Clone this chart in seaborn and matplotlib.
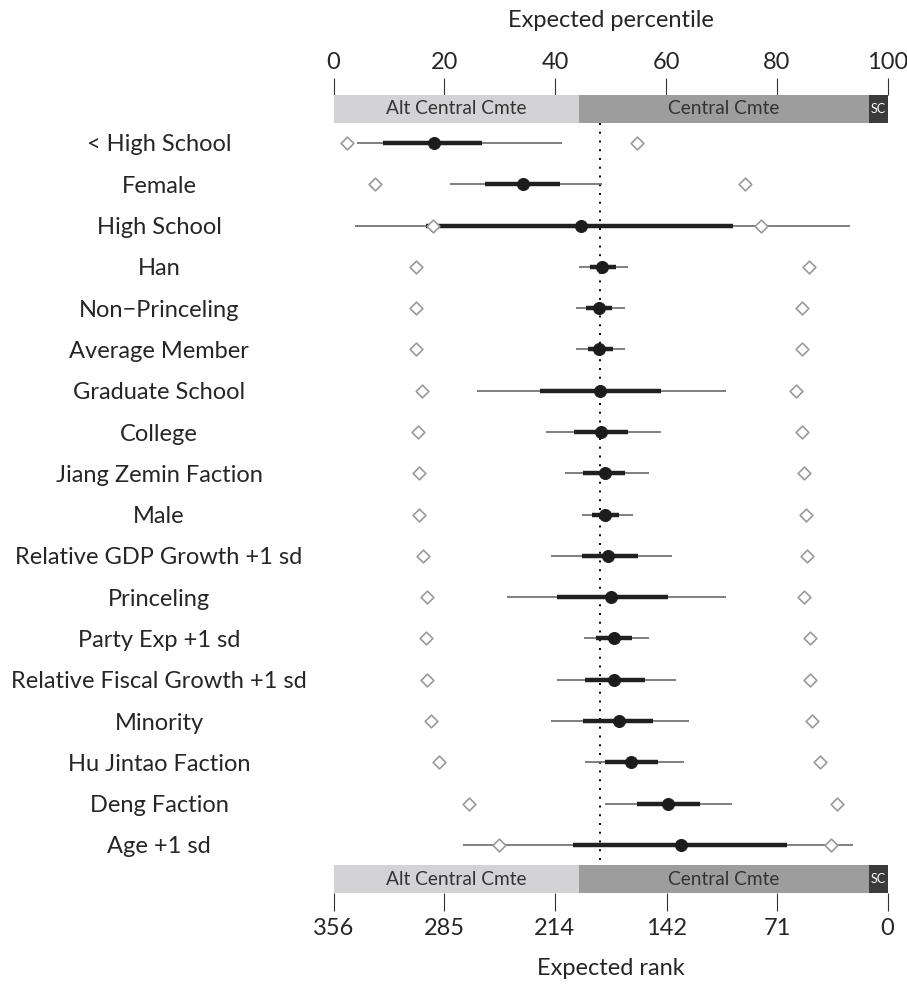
import numpy as np
import pandas as pd
import seaborn as sns
from matplotlib import pyplot as plt
from matplotlib.patches import Rectangle

sns.set_style("white")
plt.rcParams['font.family'] = ['Lato', 'DejaVu Sans']

labels = ["< High School", "Female", "High School", "Han", "Non\u2212Princeling",
          "Average Member", "Graduate School", "College", "Jiang Zemin Faction",
          "Male", "Relative GDP Growth +1 sd", "Princeling", "Party Exp +1 sd",
          "Relative Fiscal Growth +1 sd", "Minority", "Hu Jintao Faction",
          "Deng Faction", "Age +1 sd"]

# expected percentile, point estimate and intervals
est = [18.2, 34.2, 44.7, 48.4, 47.9, 47.9, 48.1, 48.3, 48.9, 49.0,
       49.6, 50.0, 50.6, 50.7, 51.5, 53.7, 60.4, 62.7]
thin_lo = [4.3, 21.1, 3.9, 44.3, 43.8, 43.8, 25.9, 38.4, 41.8, 44.9,
           39.3, 31.3, 45.2, 40.4, 39.3, 45.4, 49.0, 23.3]
thin_hi = [41.3, 48.5, 93.2, 53.1, 52.6, 52.6, 70.8, 59.1, 57.0, 54.0,
           61.0, 70.8, 57.0, 61.8, 64.1, 63.2, 72.0, 93.8]
thick_lo = [8.9, 27.3, 16.7, 46.2, 45.6, 45.9, 37.2, 43.4, 45.1, 46.7,
            44.8, 40.3, 47.4, 45.4, 45.0, 49.0, 54.7, 43.3]
thick_hi = [26.8, 40.8, 72.1, 51.0, 50.2, 50.4, 59.1, 53.2, 52.6, 51.5,
            55.0, 60.3, 53.8, 56.2, 57.6, 58.6, 66.1, 81.9]
# open diamonds
dia_lo = [2.4, 7.5, 17.9, 14.8, 14.8, 14.8, 16.0, 15.2, 15.5, 15.5,
          16.2, 16.9, 16.6, 16.9, 17.5, 19.1, 24.4, 29.8]
dia_hi = [54.8, 74.3, 77.2, 85.8, 84.5, 84.5, 83.5, 84.5, 84.9, 85.2,
          85.4, 84.9, 86.0, 86.0, 86.4, 87.8, 90.9, 89.7]

# committee bands (percentile)
band_names = ["Alt Central Cmte", "Central Cmte", "SC"]
band_edges = [0, 44.3, 96.7, 100]
band_colors = ["#d3d3d5", "#9d9d9d", "#3b3b3b"]
band_text = ["#333333", "#333333", "white"]

n_members = 356
pct_ticks = [0, 20, 40, 60, 80, 100]
rank_ticks = [356, 285, 214, 142, 71, 0]
ref_line = 48.0

ypos = np.arange(len(labels))
df = pd.DataFrame({"label": labels, "y": ypos, "est": est})
dia = pd.DataFrame({"y": np.concatenate([ypos, ypos]),
                    "x": np.concatenate([dia_lo, dia_hi])})

fig = plt.figure(figsize=(9.07, 9.84), dpi=100)
ax = fig.add_axes([333.6 / 907, 1 - 893 / 984, 554 / 907, (893 - 95) / 984])

ax.hlines(ypos, thin_lo, thin_hi, color="#6a6a6a", lw=1.2, zorder=2)
ax.hlines(ypos, thick_lo, thick_hi, color="#202020", lw=3.2, zorder=3)
sns.scatterplot(data=dia, x="x", y="y", marker="D", s=42, facecolor="white",
                edgecolor="#9a9a9a", linewidth=1.2, ax=ax, zorder=4)
sns.scatterplot(data=df, x="est", y="y", s=75, color="#1c1c1c",
                edgecolor="#1c1c1c", ax=ax, zorder=5)

top_y = -1.162
bot_y = 17.486
h = 0.678
ax.vlines(ref_line, top_y + h, bot_y, color="black", lw=1.4,
          linestyles=(0, (1, 3.5)), zorder=1)
for y0 in (top_y, bot_y):
    for i, name in enumerate(band_names):
        x0, x1 = band_edges[i], band_edges[i + 1]
        ax.add_patch(Rectangle((x0, y0), x1 - x0, h, color=band_colors[i],
                               lw=0, zorder=1))
        ax.text((x0 + x1) / 2, y0 + h / 2, name, ha="center", va="center",
                color=band_text[i], fontsize=13.8 if name != "SC" else 9)

ax.set_xlim(0, 100)
ax.set_ylim(18.164, -1.162)
for s in ax.spines.values():
    s.set_visible(False)

ax.set_yticks(ypos)
ax.set_yticklabels(labels, fontsize=17)
for t in ax.get_yticklabels():
    t.set_horizontalalignment("center")
ax.tick_params(axis="y", length=0, pad=125.7)
ax.set_ylabel("")

ax.xaxis.tick_top()
ax.xaxis.set_label_position("top")
ax.set_xticks(pct_ticks)
ax.set_xticklabels([str(t) for t in pct_ticks], fontsize=17)
ax.tick_params(axis="x", length=12.5, width=0.8, color="#333333", pad=3)
ax.set_xlabel("Expected percentile", fontsize=17, labelpad=18)

sec = ax.secondary_xaxis("bottom",
                         functions=(lambda p: n_members * (1 - p / 100),
                                    lambda r: 100 * (1 - r / n_members)))
sec.set_xticks(rank_ticks)
sec.set_xticklabels([str(t) for t in rank_ticks], fontsize=17)
sec.tick_params(axis="x", length=13, width=0.8, color="#333333", pad=5)
sec.spines["bottom"].set_visible(False)
sec.set_xlabel("Expected rank", fontsize=17, labelpad=14)

fig.savefig("out.png", dpi=100)
